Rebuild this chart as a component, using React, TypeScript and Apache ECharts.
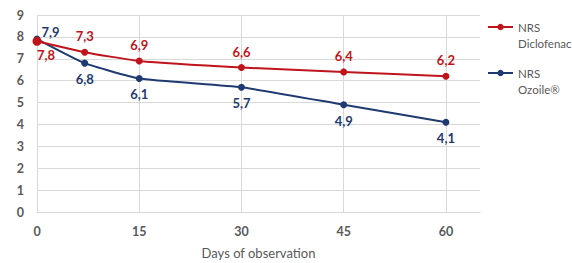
import React, { useEffect, useRef } from "react";
import * as echarts from "echarts";

const days = [0, 7, 15, 30, 45, 60];
const diclofenac = [7.8, 7.3, 6.9, 6.6, 6.4, 6.2];
const ozoile = [7.9, 6.8, 6.1, 5.7, 4.9, 4.1];
const seriesNames = ["NRS Diclofenac", "NRS Ozoile®"];
const xTicks = [0, 15, 30, 45, 60];
const xTitle = "Days of observation";

const RED = "#C0141C";
const BLUE = "#1F3A70";
const GRID = "#D9D9D9";
const TXT = "#595959";
const FONT = "Lato, 'Open Sans', sans-serif";

const fmt = (v: number) => v.toFixed(1).replace(".", ",");

export default function App() {
  const ref = useRef<HTMLDivElement>(null);
  useEffect(() => {
    if (!ref.current) return;
    const chart = echarts.init(ref.current, undefined, { renderer: "svg" });
    const redData = diclofenac.map((v, i) => {
      const item: any = { value: [days[i], v] };
      if (i === 0) {
        item.label = { position: "bottom", offset: [9, 0], distance: 3 };
        item.symbolSize = 9;
      }
      return item;
    });
    const blueData = ozoile.map((v, i) => {
      const item: any = { value: [days[i], v] };
      if (i === 0) {
        item.label = { position: "right", offset: [-1, -7], distance: 2 };
      }
      return item;
    });
    const labelBase = {
      show: true,
      fontFamily: FONT,
      fontSize: 13,
      fontWeight: "bold",
      formatter: (p: any) => fmt(p.value[1]),
    };
    chart.setOption({
      animation: false,
      textStyle: { fontFamily: FONT },
      grid: { left: 37, right: 92, top: 15, bottom: 51, outerBoundsMode: "none", containLabel: false },
      legend: {
        orient: "vertical",
        left: 487,
        top: 3,
        padding: 0,
        itemWidth: 25,
        itemHeight: 8,
        itemGap: -2,
        data: seriesNames,
        formatter: (name: string) => "\u00a0\n" + name.replace(" ", "\n"),
        textStyle: {
          color: TXT,
          fontSize: 11.5,
          fontFamily: FONT,
          lineHeight: 16,
        },
      },
      xAxis: {
        type: "value",
        min: 0,
        max: 65,
        interval: 15,
        name: xTitle,
        nameLocation: "middle",
        nameGap: 34,
        nameTextStyle: { color: TXT, fontSize: 13, fontFamily: FONT },
        axisLine: { show: true, lineStyle: { color: GRID } },
        axisTick: { show: false },
        axisLabel: {
          color: TXT,
          fontSize: 12.5,
          fontWeight: "bold",
          margin: 13,
          showMaxLabel: false,
          formatter: (v: number) => (xTicks.includes(v) ? String(v) : ""),
        },
        splitLine: { show: true, showMaxLine: false, lineStyle: { color: GRID } },
      },
      yAxis: {
        type: "value",
        min: 0,
        max: 9,
        interval: 1,
        axisLine: { show: false },
        axisTick: { show: false },
        axisLabel: { color: TXT, fontSize: 12.5, fontWeight: "bold", margin: 13 },
        splitLine: { show: true, lineStyle: { color: GRID } },
      },
      series: [
        {
          name: seriesNames[0],
          type: "line",
          data: redData,
          smooth: 0.15,
          symbol: "circle",
          symbolSize: 7,
          itemStyle: { color: RED },
          lineStyle: { color: RED, width: 2 },
          label: { ...labelBase, color: RED, position: "top", distance: 6 },
          z: 3,
        },
        {
          name: seriesNames[1],
          type: "line",
          data: blueData,
          smooth: 0.15,
          symbol: "circle",
          symbolSize: 7,
          itemStyle: { color: BLUE },
          lineStyle: { color: BLUE, width: 2 },
          label: { ...labelBase, color: BLUE, position: "bottom", distance: 6 },
          z: 2,
        },
      ],
    });
    return () => chart.dispose();
  }, []);
  return (
    <div
      ref={ref}
      style={{ position: "fixed", left: 0, top: 0, width: 572, height: 263, background: "#fff" }}
    />
  );
}
